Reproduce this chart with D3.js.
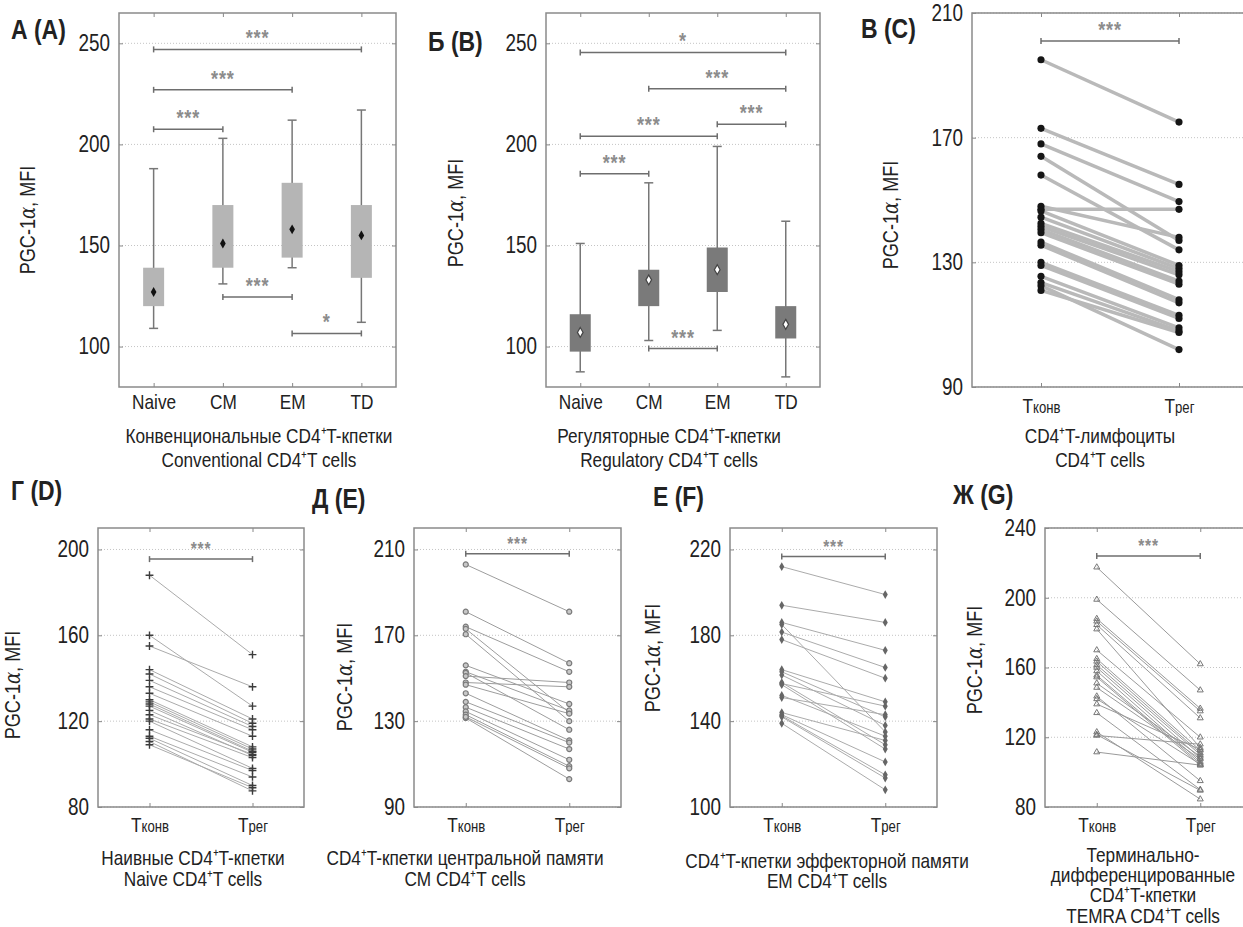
<!DOCTYPE html>
<html>
<head>
<meta charset="utf-8">
<script src="https://cdnjs.cloudflare.com/ajax/libs/d3/7.8.5/d3.min.js"></script>
<style>
  body { margin: 0; background: #fff; }
  text { font-family: 'Liberation Sans', Arial, sans-serif; fill: #222; }
</style>
</head>
<body>
<script>
// ---- data ----

// box plots (А, Б): whisker low, box low, centre point, box high, whisker high
const boxCats = ["Naive", "CM", "EM", "TD"];
const convMin = [109, 131, 139, 112];
const convQ1  = [120, 139, 144, 134];
const convMid = [127, 151, 158, 155];
const convQ3  = [139, 170, 181, 170];
const convMax = [188, 203, 212, 217];

const regMin = [87.5, 103, 108, 85];
const regQ1  = [97.5, 120, 127, 104];
const regMid = [107, 133, 138, 111];
const regQ3  = [116, 138, 149, 120];
const regMax = [151, 181, 199, 162];

// significance brackets: [from, to, level, stars]
const convSig = [[0, 3, 247, "***"], [0, 2, 227, "***"], [0, 1, 207.5, "***"], [1, 2, 124.5, "***"], [2, 3, 106.5, "*"]];
const regSig  = [[0, 3, 245.5, "*"], [1, 3, 227.5, "***"], [2, 3, 210, "***"], [0, 2, 204, "***"], [0, 1, 185.5, "***"], [1, 2, 99, "***"]];

// paired panels (Tконв -> Tрег)
const pairCats = ["Tконв", "Tрег"];

const allConv = [195, 173, 168, 164, 158, 148, 147, 146.5, 144.5, 142.5, 141.5, 140.5, 139.5, 136.5, 135.5, 130, 129, 125.5, 123.5, 122.5, 121];
const allReg  = [175, 155, 149.5, 137, 134, 138, 147, 129, 128, 127, 126, 124, 123, 118, 117, 113, 112, 109, 108, 102, 107.5];

const naiveConv = [188, 160, 155, 144, 142, 139, 136, 133, 130, 129, 128, 127, 125, 123, 121, 120, 116, 113, 112, 110.5, 109];
const naiveReg  = [151, 127, 136, 121, 119, 117.5, 116, 113, 108, 107, 106, 105.5, 104, 104.5, 103, 98, 97, 94, 90, 87.5, 89];

const cmConv = [203, 181, 174, 173, 170.5, 156, 153, 152.5, 151, 148, 147, 143, 139, 136.5, 134.5, 133, 131.5, 132];
const cmReg  = [181, 157, 153, 134, 130, 138, 135, 126, 148, 146, 133.5, 121, 120, 117, 112, 109, 103, 108];

const emConv = [212, 194, 186, 185, 181.5, 178, 164, 163, 161.5, 158, 157.5, 157, 152, 151, 144, 143, 142.5, 142, 139];
const emReg  = [199, 186, 173, 135, 165, 160, 149, 142, 138, 129, 147, 127, 133, 143, 131, 121, 115, 113.5, 108];

const tdConv = [217.5, 199, 188, 186.5, 184.5, 182, 170, 165, 163.5, 161.5, 160, 158, 155.5, 154.5, 151, 148.5, 143.5, 142, 139, 134, 123, 121.5, 121, 111.5];
const tdReg  = [162, 147, 136.5, 135, 131, 114, 120, 112.5, 111, 110, 108, 106, 105, 104, 109, 107.5, 95, 104.5, 113, 90, 84.5, 89.5, 116, 104];

// ---- drawing ----
const svg = d3.select("body").append("svg").attr("width", 1243).attr("height", 927);

function panel(cfg) {
  const g = svg.append("g");
  const x = d3.scalePoint().domain(cfg.cats).range([cfg.x0, cfg.x1]).padding(0.5);
  const y = d3.scaleLinear().domain(cfg.domain).range([cfg.y1, cfg.y0]);

  // grid
  g.selectAll(".grid").data(cfg.ticks).join("line")
    .attr("x1", cfg.x0).attr("x2", cfg.x1)
    .attr("y1", d => y(d)).attr("y2", d => y(d))
    .attr("stroke", "#c4c4c4").attr("stroke-dasharray", "1,2");

  const ax = g.append("g").attr("transform", `translate(${cfg.x0},0)`)
    .call(d3.axisLeft(y).tickValues(cfg.ticks).tickSize(-4).tickPadding(9));
  ax.select(".domain").remove();
  ax.selectAll("line").attr("stroke", "#888");
  ax.attr("font-family", null).attr("font-size", null);
  ax.selectAll("text").attr("font-size", 23).attr("fill", "#222");

  const axr = g.append("g").attr("transform", `translate(${cfg.x1},0)`)
    .call(d3.axisRight(y).tickValues(cfg.ticks).tickSize(-4).tickFormat(""));
  axr.select(".domain").remove();
  axr.selectAll("line").attr("stroke", "#888");

  const axt = g.append("g").attr("transform", `translate(0,${cfg.y0})`)
    .call(d3.axisTop(x).tickSize(-4).tickFormat(""));
  axt.select(".domain").remove();
  axt.selectAll("line").attr("stroke", "#888");

  const axb = g.append("g").attr("transform", `translate(0,${cfg.y1})`)
    .call(d3.axisBottom(x).tickSize(-4).tickPadding(cfg.xPad));
  axb.select(".domain").remove();
  axb.selectAll("line").attr("stroke", "#888");
  axb.attr("font-family", null).attr("font-size", null);
  axb.selectAll("text").attr("font-size", 21).attr("fill", "#222").each(function (d) {
    if (d[0] === "T" && d.length > 2) {
      const t = d3.select(this).text(null);
      t.append("tspan").text("T");
      t.append("tspan").attr("font-size", 16).text(d.slice(1));
    }
  });

  // frame
  g.append("rect")
    .attr("x", cfg.x0).attr("y", cfg.y0)
    .attr("width", cfg.x1 - cfg.x0).attr("height", cfg.y1 - cfg.y0)
    .attr("fill", "none").attr("stroke", "#8a8a8a").attr("stroke-width", 1.5);

  // y title
  const yt = g.append("text")
    .attr("transform", `translate(${cfg.tx},${cfg.ty}) rotate(-90)`)
    .attr("text-anchor", "middle").attr("font-size", 22);
  yt.append("tspan").text("PGC-1");
  yt.append("tspan").attr("font-style", "italic").attr("font-family", "'DejaVu Serif', serif").text("α");
  yt.append("tspan").text(", MFI");

  // panel letter
  g.append("text").attr("x", cfg.lx).attr("y", cfg.ly)
    .attr("font-size", 28).attr("font-weight", "bold").attr("fill", "#111")
    .text(cfg.letter);

  // caption lines
  cfg.caption.forEach((line, i) => {
    g.append("text").attr("x", cfg.cx).attr("y", cfg.cy[i])
      .attr("text-anchor", "middle").attr("font-size", 21).text(line);
  });

  return { g, x, y };
}

function brackets(p, sig, cats, fs) {
  sig.forEach(([i, j, v, stars]) => {
    const xa = p.x(cats[i]), xb = p.x(cats[j]), yy = p.y(v);
    const b = p.g.append("g").attr("stroke", "#6e6e6e").attr("stroke-width", 1.5);
    b.append("line").attr("x1", xa).attr("x2", xb).attr("y1", yy).attr("y2", yy);
    b.append("line").attr("x1", xa).attr("x2", xa).attr("y1", yy - 3).attr("y2", yy + 3);
    b.append("line").attr("x1", xb).attr("x2", xb).attr("y1", yy - 3).attr("y2", yy + 3);
    p.g.append("text").attr("x", (xa + xb) / 2).attr("y", yy - 4)
      .attr("text-anchor", "middle").attr("font-size", fs).attr("font-weight", "bold")
      .attr("letter-spacing", 1).style("fill", "#8c8c8c").text(stars);
  });
}

function boxes(p, mins, q1, mid, q3, maxs, boxFill, dotFill, dotStroke) {
  const g = p.g.append("g");
  boxCats.forEach((c, i) => {
    const cx = p.x(c);
    g.append("line").attr("x1", cx).attr("x2", cx).attr("y1", p.y(mins[i])).attr("y2", p.y(maxs[i]))
      .attr("stroke", "#777").attr("stroke-width", 1.5);
    [mins[i], maxs[i]].forEach(v => g.append("line")
      .attr("x1", cx - 4.5).attr("x2", cx + 4.5).attr("y1", p.y(v)).attr("y2", p.y(v))
      .attr("stroke", "#777").attr("stroke-width", 1.5));
    g.append("rect").attr("x", cx - 10.5).attr("width", 21)
      .attr("y", p.y(q3[i])).attr("height", p.y(q1[i]) - p.y(q3[i]))
      .attr("fill", boxFill);
    g.append("path").attr("d", d3.symbol(d3.symbolDiamond, 28)())
      .attr("transform", `translate(${cx},${p.y(mid[i])})`)
      .attr("fill", dotFill).attr("stroke", dotStroke).attr("stroke-width", dotStroke === "none" ? 0 : 1.2);
  });
}

function pairs(p, conv, reg, lineStyle, mark) {
  const g = p.g.append("g");
  const x0 = p.x(pairCats[0]), x1 = p.x(pairCats[1]);
  conv.forEach((v, i) => {
    g.append("line").attr("x1", x0).attr("x2", x1).attr("y1", p.y(v)).attr("y2", p.y(reg[i]))
      .attr("stroke", lineStyle.color).attr("stroke-width", lineStyle.width);
  });
  const pts = conv.map(v => [x0, v]).concat(reg.map(v => [x1, v]));
  g.selectAll(".m").data(pts).join("path")
    .attr("d", d3.symbol(mark.type, mark.size)())
    .attr("transform", d => `translate(${d[0]},${p.y(d[1])})`)
    .attr("fill", mark.fill).attr("stroke", mark.stroke).attr("stroke-width", mark.sw);
}

// А
const pA = panel({ cats: boxCats, x0: 119, x1: 396, y0: 13, y1: 387, domain: [80, 265], ticks: [100, 150, 200, 250],
  xPad: 7, tx: 35, ty: 220, letter: "А (A)", lx: 11, ly: 39,
  caption: ["Конвенциональные CD4⁺T-кпетки", "Conventional CD4⁺T cells"], cx: 259, cy: [443, 467] });
brackets(pA, convSig, boxCats, 22);
boxes(pA, convMin, convQ1, convMid, convQ3, convMax, "#b5b5b5", "#111", "none");

// Б
const pB = panel({ cats: boxCats, x0: 546, x1: 820, y0: 13, y1: 387, domain: [80, 265], ticks: [100, 150, 200, 250],
  xPad: 7, tx: 463, ty: 213, letter: "Б (B)", lx: 428, ly: 51,
  caption: ["Регуляторные CD4⁺T-кпетки", "Regulatory CD4⁺T cells"], cx: 669, cy: [443, 467] });
brackets(pB, regSig, boxCats, 22);
boxes(pB, regMin, regQ1, regMid, regQ3, regMax, "#7a7a7a", "#fff", "#444");

// В
const pC = panel({ cats: pairCats, x0: 972, x1: 1248, y0: 13, y1: 387, domain: [90, 210], ticks: [90, 130, 170, 210],
  xPad: 11, tx: 898, ty: 215, letter: "В (C)", lx: 861, ly: 38,
  caption: ["CD4⁺T-лимфоциты", "CD4⁺T cells"], cx: 1100, cy: [443, 467] });
brackets(pC, [[0, 1, 201, "***"]], pairCats, 22);
pairs(pC, allConv, allReg, { color: "#b9b9b9", width: 3.5 }, { type: d3.symbolCircle, size: 40, fill: "#151515", stroke: "none", sw: 0 });

// Г
const pD = panel({ cats: pairCats, x0: 98, x1: 304, y0: 528, y1: 807, domain: [80, 210], ticks: [80, 120, 160, 200],
  xPad: 10, tx: 20, ty: 685, letter: "Г (D)", lx: 11, ly: 500,
  caption: ["Наивные CD4⁺T-кпетки", "Naive CD4⁺T cells"], cx: 193, cy: [865, 886] });
brackets(pD, [[0, 1, 195.5, "***"]], pairCats, 19);
pairs(pD, naiveConv, naiveReg, { color: "#ababab", width: 1 }, { type: d3.symbolPlus, size: 22, fill: "none", stroke: "#3c3c3c", sw: 1.4 });

// Д
const pE = panel({ cats: pairCats, x0: 414, x1: 621, y0: 528, y1: 807, domain: [90, 220], ticks: [90, 130, 170, 210],
  xPad: 10, tx: 352, ty: 677, letter: "Д (E)", lx: 312, ly: 508,
  caption: ["CD4⁺T-кпетки центральной памяти", "CM CD4⁺T cells"], cx: 465, cy: [865, 886] });
brackets(pE, [[0, 1, 208, "***"]], pairCats, 19);
pairs(pE, cmConv, cmReg, { color: "#9d9d9d", width: 1 }, { type: d3.symbolCircle, size: 20, fill: "#c8c8c8", stroke: "#7a7a7a", sw: 1.2 });

// Е
const pF = panel({ cats: pairCats, x0: 730, x1: 937, y0: 528, y1: 807, domain: [100, 230], ticks: [100, 140, 180, 220],
  xPad: 10, tx: 660, ty: 658, letter: "Е (F)", lx: 653, ly: 506,
  caption: ["CD4⁺T-кпетки эффекторной памяти", "EM CD4⁺T cells"], cx: 827, cy: [868, 888] });
brackets(pF, [[0, 1, 216.7, "***"]], pairCats, 19);
pairs(pF, emConv, emReg, { color: "#ababab", width: 1 }, { type: d3.symbolDiamond, size: 22, fill: "#666", stroke: "none", sw: 0 });

// Ж
const pG = panel({ cats: pairCats, x0: 1045, x1: 1252, y0: 528, y1: 807, domain: [80, 240], ticks: [80, 120, 160, 200, 240],
  xPad: 10, tx: 982, ty: 660, letter: "Ж (G)", lx: 953, ly: 504,
  caption: ["Терминально-", "дифференцированные", "CD4⁺T-кпетки", "TEMRA CD4⁺T cells"], cx: 1143, cy: [862, 882, 902, 923] });
brackets(pG, [[0, 1, 224, "***"]], pairCats, 19);
pairs(pG, tdConv, tdReg, { color: "#9a9a9a", width: 1 }, { type: d3.symbolTriangle2, size: 26, fill: "none", stroke: "#777", sw: 1 });

// the figure is set in a narrow face: squeeze every text to ~82% of its width
svg.selectAll("text").each(function () {
  const len = this.getComputedTextLength();
  if (len > 0) d3.select(this).attr("textLength", len * 0.82).attr("lengthAdjust", "spacingAndGlyphs");
});
</script>
</body>
</html>
